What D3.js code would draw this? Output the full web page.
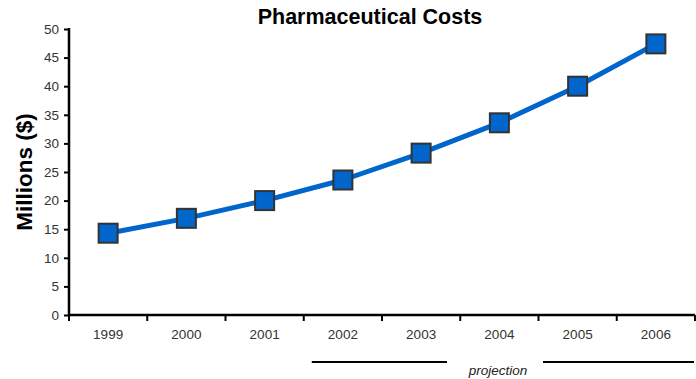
<!DOCTYPE html>
<html><head><meta charset="utf-8">
<script src="https://cdn.jsdelivr.net/npm/d3@7"></script>
<style>
body{margin:0;background:#fff;}
svg text{font-family:"Liberation Sans",Arial,sans-serif;}
</style></head>
<body><svg id="c" width="696" height="379"></svg>
<script>
const years = ["1999","2000","2001","2002","2003","2004","2005","2006"];
const costs = [14.3, 16.9, 20.0, 23.6, 28.3, 33.6, 40.0, 47.4];
const yTicks = [0,5,10,15,20,25,30,35,40,45,50];

const svg = d3.select("#c");
const L=69, R=695, T=29, B=315;
const x = d3.scaleBand().domain(years).range([L,R]);
const y = d3.scaleLinear().domain([0,50]).range([B,T]);

// title
svg.append("text").attr("x",370).attr("y",24).attr("text-anchor","middle")
  .attr("font-size",21.5).attr("font-weight","bold").text("Pharmaceutical Costs");
// y label
svg.append("text").attr("transform","translate(32,172) rotate(-90)").attr("text-anchor","middle")
  .attr("font-size",22.5).attr("font-weight","bold").text("Millions ($)");

// y axis
const ya = svg.append("g").attr("transform",`translate(${L},0)`)
  .call(d3.axisLeft(y).tickValues(yTicks).tickSize(5).tickPadding(5));
ya.select(".domain").attr("stroke","#000").attr("stroke-width",2.5).attr("d",`M0,${T-1}V${B}`);
ya.selectAll(".tick line").attr("stroke","#000").attr("stroke-width",2);
ya.selectAll(".tick text").attr("font-size",13.5).attr("fill","#333").attr("font-family","Liberation Sans, Arial, sans-serif");

// x axis
const xa = svg.append("g").attr("transform",`translate(0,${B})`)
  .call(d3.axisBottom(x).tickSize(0).tickPadding(14));
xa.select(".domain").attr("stroke","#000").attr("stroke-width",2.5).attr("d",`M${L-1},0H${R}`);
xa.selectAll(".tick text").attr("font-size",13.5).attr("fill","#333").attr("font-family","Liberation Sans, Arial, sans-serif");
// boundary ticks
const bounds = years.map(d=>x(d)).concat([x(years[years.length-1])+x.bandwidth()]);
svg.append("g").selectAll("line").data(bounds).join("line")
  .attr("x1",d=>d).attr("x2",d=>d).attr("y1",B).attr("y2",B+6)
  .attr("stroke","#000").attr("stroke-width",2);

// projection bracket
const pStart = x("2002")+8, pEnd = R-1;
svg.append("line").attr("x1",pStart).attr("x2",447).attr("y1",362).attr("y2",362).attr("stroke","#000").attr("stroke-width",2);
svg.append("line").attr("x1",543).attr("x2",pEnd).attr("y1",362).attr("y2",362).attr("stroke","#000").attr("stroke-width",2);
svg.append("text").attr("x",498).attr("y",375).attr("text-anchor","middle")
  .attr("font-size",13.5).attr("font-style","italic").attr("fill","#222").text("projection");

// line
const cx = d=>x(d)+x.bandwidth()/2;
const line = d3.line().x((d,i)=>cx(years[i])).y(d=>y(d));
svg.append("path").datum(costs).attr("d",line).attr("fill","none")
  .attr("stroke","#0066CC").attr("stroke-width",5).attr("stroke-linejoin","round");
// markers
const s=19;
svg.append("g").selectAll("rect").data(costs).join("rect")
  .attr("x",(d,i)=>cx(years[i])-s/2).attr("y",d=>y(d)-s/2)
  .attr("width",s).attr("height",s).attr("fill","#0066CC")
  .attr("stroke","#333").attr("stroke-width",2);
</script></body></html>
